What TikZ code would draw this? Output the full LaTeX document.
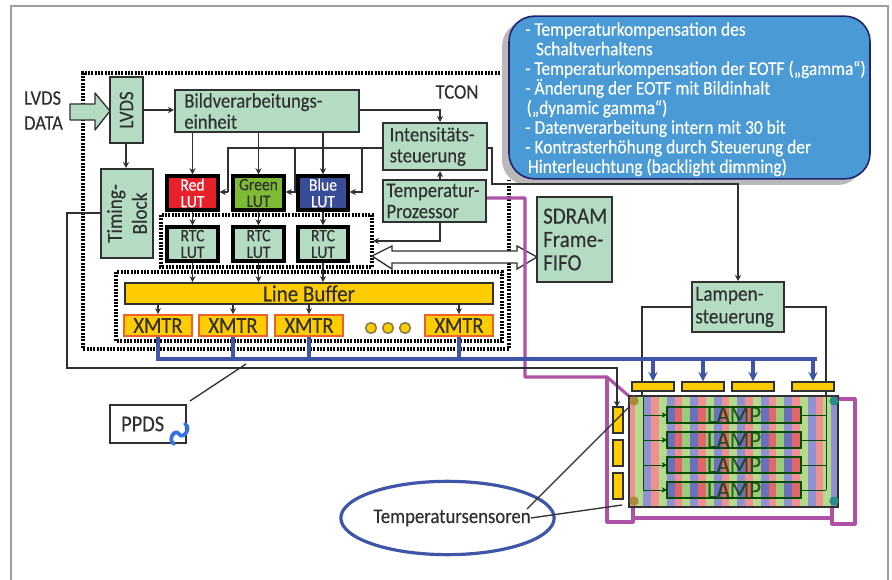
\documentclass[tikz,border=0pt]{standalone}
\usepackage{fontspec}
\setmainfont{Carlito}[FakeStretch=0.9,FakeBold=0.25]
\usetikzlibrary{arrows.meta,shapes.geometric}
\definecolor{gfill}{HTML}{B4DCC2}
\definecolor{ink}{HTML}{303030}
\definecolor{yel}{HTML}{FFCC00}
\definecolor{org}{HTML}{F0602A}
\definecolor{mag}{HTML}{AE52A8}
\definecolor{bus}{HTML}{3F55A8}
\definecolor{bub}{HTML}{4A9AD6}
\definecolor{sr}{HTML}{F09090}
\definecolor{sg}{HTML}{B4DA8C}
\definecolor{sb}{HTML}{8F92D2}
\definecolor{dr}{HTML}{E0666A}
\definecolor{dg}{HTML}{98CC78}
\definecolor{db}{HTML}{6A70BC}
\definecolor{lutg}{HTML}{7DBB34}
\definecolor{lutr}{HTML}{E8202A}
\definecolor{sensa}{HTML}{A88A3A}
\definecolor{sensb}{HTML}{2E8B8B}
\tikzset{
 gbox/.style={draw=ink,fill=gfill,line width=1.5pt,inner sep=0pt,text=ink,font=\fontsize{15.5}{15.8}\selectfont},
 lut/.style={draw=black,line width=2.6pt,inner sep=0pt,font=\fontsize{13}{12.5}\selectfont,align=center},
 ybar/.style={draw=ink,fill=yel,line width=1pt,inner sep=0pt},
 xmtr/.style={draw=org,fill=yel,line width=1.3pt,inner sep=0pt,text=ink,font=\fontsize{17}{17}\selectfont},
 dots/.style={draw=black,line width=2.4pt,dash pattern=on 1.5pt off 1pt},
 wire/.style={draw=ink,line width=1pt},
 arr/.style={wire,-{Stealth[length=4.5pt,width=4.5pt]}},
 busl/.style={draw=bus,line width=2.8pt},
 busa/.style={busl,-{Stealth[length=7pt,width=7pt]}},
 magl/.style={draw=mag,line width=2.3pt,line join=round},
 sens/.style={circle,minimum size=7pt,inner sep=0pt},
 lbl/.style={text=ink,inner sep=0pt,font=\fontsize{15.5}{18.75}\selectfont,align=left},
}
\newcommand{\bxn}[7][]{%
 \pgfmathsetlengthmacro\bxw{(#5-#3)*0.75pt}%
 \pgfmathsetlengthmacro\bxh{(#6-#4)*0.75pt}%
 \node[minimum width=\bxw,minimum height=\bxh,#1] (#2) at ({(#3+#5)/2},{(#4+#6)/2}) {#7};}
\begin{document}
\begin{tikzpicture}[x=0.75pt,y=-0.75pt]
\useasboundingbox (0,0) rectangle (892,580);
\fill[white] (0,0) rectangle (892,580);
% outer frame
\draw[draw=gray!75,line width=1.6pt] (11,580) -- (11,6) -- (888,6) -- (888,580);
% TCON dotted
\draw[dots] (500,73) -- (83,73) -- (83,349) -- (509,349) -- (509,180);
\node[lbl] (tcon) at (457,92) {TCON};
% bubble
\fill[gray!55,rounded corners=19pt] (502,21) rectangle (863,185);
\node[draw=ink!70!blue,fill=bub,line width=1.2pt,rounded corners=19pt,minimum width=270.75pt,minimum height=122pt,inner sep=0pt] (bubble) at (689.5,97.5) {};
\node[text=white,inner sep=0pt,align=left,anchor=north west,font=\fontsize{14.5}{14.7}\selectfont] (bubtext) at (525,22) {- Temperaturkompensation des\\\hspace*{8pt}Schaltverhaltens\\- Temperaturkompensation der EOTF („gamma“)\\- Änderung der EOTF mit Bildinhalt\\\hspace*{1pt}(„dynamic gamma“)\\- Datenverarbeitung intern mit 30 bit\\- Kontrasterhöhung durch Steuerung der\\\hspace*{2pt}Hinterleuchtung (backlight dimming)};
% main boxes
\bxn[gbox]{lvds}{110}{77}{143}{143}{\rotatebox{90}{LVDS}}
\bxn[gbox,align=left,text width=124pt]{bild}{175}{90}{359}{132}{Bildverarbeitungs-\\einheit}
\bxn[gbox,align=center]{timing}{101}{169}{153}{258}{\rotatebox{90}{\parbox{60pt}{\centering\fontsize{16}{18.75}\selectfont Timing-\\Block}}}
\bxn[gbox,align=left,text width=68pt]{intens}{383}{123}{487}{170}{Intensitäts-\\steuerung}
\bxn[gbox,align=left,text width=72pt]{temp}{383}{180}{486}{222}{Temperatur-\\Prozessor}
\bxn[gbox,align=left,text width=47pt,font=\fontsize{17.5}{17.5}\selectfont]{sdram}{537}{197}{612}{282}{SDRAM\\Frame-\\FIFO}
\bxn[gbox,align=left,text width=64pt,font=\fontsize{16}{17}\selectfont]{lampen}{692}{282}{784}{332}{Lampen-\\steuerung}
% LUTs
\bxn[lut,fill=lutr,text=white]{red}{167}{176}{218}{210}{Red\\LUT}
\bxn[lut,fill=lutg,text=ink]{green}{233}{176}{284}{210}{Green\\LUT}
\bxn[lut,fill=bus!90!black,text=white]{blue}{298}{176}{348}{210}{Blue\\LUT}
\bxn[lut,fill=gfill,text=ink]{rtca}{167}{227}{218}{261}{RTC\\LUT}
\bxn[lut,fill=gfill,text=ink]{rtcb}{233}{227}{284}{261}{RTC\\LUT}
\bxn[lut,fill=gfill,text=ink]{rtcc}{298}{227}{348}{261}{RTC\\LUT}
\draw[dots] (161,215) rectangle (372,267);
\draw[dots] (116,272) rectangle (502,341);
\bxn[ybar,draw=ink,line width=1.3pt,font=\fontsize{17.5}{18}\selectfont,text=ink]{lb}{125}{283}{493}{304}{Line Buffer}
\bxn[xmtr]{xa}{124}{315}{192}{336}{XMTR}
\bxn[xmtr]{xb}{199}{315}{267}{336}{XMTR}
\bxn[xmtr]{xc}{275}{315}{343}{336}{XMTR}
\bxn[xmtr]{xd}{425}{315}{493}{336}{XMTR}
\foreach \cx/\nm in {371/da,388/db,405/dc}
 \node[circle,draw=yellow!45!black,fill=yel,line width=1.2pt,minimum size=8pt,inner sep=0pt] (\nm) at (\cx,328) {};
% arrows inside
\draw[arr] (lvds.east |- 0,110) -- (bild.west |- 0,110);
\draw[arr] (lvds.south -| 126,0) -- (timing.north -| 126,0);
\foreach \a/\b in {red/bild,green/bild,blue/bild}
 \draw[arr] (\a.north |- \b.south) -- (\a.north);
\foreach \a/\b in {red/rtca,green/rtcb,blue/rtcc}
 \draw[arr] (\a.south) -- (\b.north);
\foreach \a in {rtca,rtcb,rtcc}
 \draw[arr] (\a.south) -- (\a.south |- lb.north);
\draw[wire] (intens.west |- 0,148) -- (228,148) -- (228,192);
\draw[arr] (228,192) -- (red.east |- 0,192);
\draw[arr] (295,148) -- (295,192) -- (green.east |- 0,192);
\draw[arr] (362,148) -- (362,192) -- (blue.east |- 0,192);
\draw[arr] (bild.east |- 0,110) -- (440,110) -- (intens.north -| 440,0);
\draw[arr] (temp.north -| 440,0) -- (intens.south -| 440,0);
\draw[arr] (temp.south -| 440,0) -- (440,241) -- (373,241);
\draw[arr] (intens.east |- 0,148) -- (492,148) -- (492,184) -- (738,184) -- (lampen.north -| 738,0);
\foreach \a in {xa,xb,xc,xd}
 \draw[arr] (\a.north |- lb.south) -- (\a.north);
% big arrows
\draw[draw=ink,fill=gfill,line width=1pt,line join=round] (70,104) -- (95,104) -- (95,93) -- (110,111) -- (95,130) -- (95,120) -- (70,120) -- cycle;
\node[lbl,text=ink] (data) at (43.5,110.5) {LVDS\\DATA};
\coordinate (dl) at (372,256); \coordinate (dr) at (537,257);
\draw[draw=ink,fill=white,line width=1pt,line join=miter] (dl) -- (392,246) -- (392,251) -- (517,251) -- (517,246) -- (dr) -- (517,269) -- (517,263) -- (392,263) -- (392,269) -- cycle;
% right magenta
\draw[magl] (temp.east |- 0,198) -- (525,198) -- (525,377) -- (607,377) -- (630,397);
\draw[magl] (607,377) -- (607,522) -- (633,522) -- (633,507);
\draw[magl] (633,518) -- (832,518);
\draw[magl] (832,507) -- (832,524) -- (855,524) -- (855,399) -- (838,399);
% panel
\begin{scope}
\clip (629,396) rectangle (838,507);
\fill[sr] (629,396) rectangle (838,507);
\foreach \i in {0,...,8} {
 \fill[sg] ({635+23.5*\i},396) rectangle ++(8,111);
 \fill[sb] ({643+23.5*\i},396) rectangle ++(8,111);
}
\end{scope}
\foreach \yy/\nm in {407/la,432/lb2,457/lc,482/ld} {
 \begin{scope}
 \clip (667,\yy) rectangle (801,\yy+16);
 \fill[dr] (660,\yy) rectangle (810,\yy+16);
 \foreach \i in {1,...,7} {
  \fill[dg] ({635+23.5*\i},\yy) rectangle ++(8,16);
  \fill[db] ({643+23.5*\i},\yy) rectangle ++(8,16);
 }
 \end{scope}
 \draw[draw=green!30!black,line width=.9pt] (667,\yy) rectangle (801,\yy+16);
 \coordinate (\nm) at (734,\yy+8);
 \node[text=green!25!black,opacity=.75,inner sep=0pt,font=\fontsize{19}{19}\selectfont] at (734,\yy+8) {LAMP};
 \draw[draw=green!30!black,line width=.7pt,-{Stealth[length=4pt,width=4pt]}] (643,\yy+8) -- (667,\yy+8);
 \draw[draw=green!30!black,line width=.7pt] (801,\yy+8) -- (826,\yy+8);
}
\draw[draw=green!30!black,line width=.7pt] (643,396) -- (643,490);
\draw[draw=green!30!black,line width=.7pt] (826,396) -- (826,490);
\draw[draw=ink,line width=1.3pt] (629,396) rectangle (838,507);
\node[sens,fill=sensa] (sa) at (634,401) {};
\node[sens,fill=sensb] (sb) at (834,401) {};
\node[sens,fill=sensa] (sc) at (634,501) {};
\node[sens,fill=sensb] (sd) at (834,501) {};
% yellow bars
\bxn[ybar]{ya}{632}{382}{674}{391}{}
\bxn[ybar]{yb}{682}{382}{724}{391}{}
\bxn[ybar]{yc}{732}{382}{774}{391}{}
\bxn[ybar]{yd}{792}{382}{834}{391}{}
\bxn[ybar]{ve}{613}{407}{623}{433}{}
\bxn[ybar]{vf}{613}{440}{623}{466}{}
\bxn[ybar]{vg}{613}{473}{623}{499}{}
% lampen wires
\draw[wire] (lampen.west |- 0,307) -- (642,307) -- (642,382);
\draw[wire] (lampen.east |- 0,307) -- (826,307) -- (826,382);
\draw[wire] (642,391) -- (642,396);
\draw[wire] (826,391) -- (826,396);
% timing line
\draw[arr] (timing.west |- 0,213) -- (67,213) -- (67,368) -- (617,368) -- (617,407);
% blue bus
\draw[busl,line cap=rect] (158,359) -- (815,359);
\foreach \a in {xa,xb,xc,xd}
 \draw[busl] (\a.south) -- (\a.south |- 0,359);
\foreach \a in {ya,yb,yc,yd}
 \draw[busa] (\a.north |- 0,359) -- (\a.north);
% PPDS
\bxn[draw=ink,line width=1.2pt,text=ink,font=\fontsize{17}{17}\selectfont,inner sep=0pt]{ppds}{110}{405}{186}{443}{\hspace*{-8pt}PPDS}
\coordinate (pa) at (190,401); \coordinate (pb) at (246,364);
\draw[wire] (pa) -- (pb);
\draw[draw=bub!75!blue,line width=2.8pt,line cap=round] (174,444) .. controls (167,440) and (175,428) .. (179,434) .. controls (183,440) and (192,428) .. (185,424);
% sensors callout
\node[ellipse,draw=bus,line width=2.4pt,minimum width=160pt,minimum height=55pt,inner sep=0pt] (ell) at (447.5,518) {};
\node[text=ink,inner sep=0pt,font=\fontsize{15.6}{15.6}\selectfont] (ts) at (452,518) {Temperatursensoren};
\coordinate (ca) at (628,408); \coordinate (cb) at (622,505);
\draw[wire] (527,509) -- (ca);
\draw[wire] (ts.east) -- (cb);
\end{tikzpicture}
\end{document}
